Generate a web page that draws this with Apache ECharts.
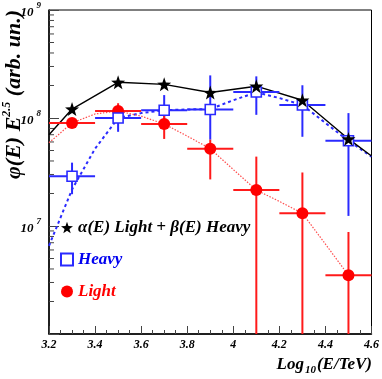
<!DOCTYPE html>
<html>
<head>
<meta charset="utf-8">
<script src="https://cdn.jsdelivr.net/npm/echarts@6/dist/echarts.min.js"></script>
<style>
  html, body { margin: 0; padding: 0; background: #fff; }
  #chart { width: 382px; height: 379px; }
</style>
</head>
<body>
<div id="chart"></div>
<script>
// measured points (bin centres in log10(E/TeV))
var energyBins = [3.3, 3.5, 3.7, 3.9, 4.1, 4.3, 4.5];
var binHalfWidth = 0.1;

var totalFlux = [1.21e8, 2.14e8, 2.05e8, 1.72e8, 1.97e8, 1.46e8, 6.4e7];

var heavyFlux = [2.89e7, 1.0e8, 1.18e8, 1.2e8, 1.74e8, 1.32e8, 6.15e7];
var heavyLow = [1.97e7, 7.45e7, 9.0e7, 6.3e7, 1.07e8, 6.7e7, 1.24e7];
var heavyHigh = [3.86e7, 1.32e8, 1.63e8, 2.48e8, 2.43e8, 2.01e8, 1.11e8];

var lightFlux = [9.0e7, 1.16e8, 8.8e7, 5.2e7, 2.15e7, 1.31e7, 3.5e6];
var lightLow = [8.1e7, 9.6e7, 6.4e7, 2.7e7, 1e6, 1e6, 1e6];
var lightHigh = [1.0e8, 1.37e8, 1.07e8, 6.3e7, 4.39e7, 3.13e7, 8.8e6];

// fitted curves
var curveX = [3.2, 3.3, 3.4, 3.5, 3.6, 3.7, 3.8, 3.9, 4.0, 4.1, 4.2, 4.3, 4.4, 4.5, 4.6];
var heavyCurve = [6.56e6, 2.18e7, 5.2e7, 1.0e8, 1.11e8, 1.18e8, 1.2e8, 1.21e8, 1.46e8, 1.73e8, 1.53e8, 1.32e8, 9.0e7, 6.15e7, 4.39e7];
var lightCurve = [5.9e7, 9.0e7, 1.09e8, 1.16e8, 1.04e8, 8.8e7, 6.8e7, 5.2e7, 3.33e7, 2.15e7, 1.69e7, 1.31e7, 6.8e6, 3.5e6, null];
var totalCurveX = [3.2, 3.3, 3.5, 3.7, 3.9, 4.1, 4.3, 4.5, 4.6];
var totalCurve = [7.0e7, 1.21e8, 2.14e8, 2.05e8, 1.72e8, 1.97e8, 1.46e8, 6.4e7, 4.45e7];

// axis
var xTicks = [3.2, 3.4, 3.6, 3.8, 4.0, 4.2, 4.4, 4.6];
var yMinorTicks = [2e6, 3e6, 4e6, 5e6, 6e6, 7e6, 8e6, 9e6,
  2e7, 3e7, 4e7, 5e7, 6e7, 7e7, 8e7, 9e7,
  2e8, 3e8, 4e8, 5e8, 6e8, 7e8, 8e8, 9e8];

var LEG_TOTAL = "\u03b1(E) Light + \u03b2(E) Heavy";
var LEG_HEAVY = "Heavy";
var LEG_LIGHT = "Light";

var RED = "#ff1a1a";
var BLUE = "#2a2aff";
var FONT = "'Liberation Serif', 'DejaVu Serif', serif";
var STAR = "path://M0,-10L2.35,-3.24L9.51,-3.09L3.8,1.24L5.88,8.09L0,4L-5.88,8.09L-3.8,1.24L-9.51,-3.09L-2.35,-3.24Z";

function pairs(xs, ys) {
  return xs.map(function (x, i) {
    return [x, ys[i]];
  });
}

function errData(vals, lo, hi) {
  return energyBins.map(function (x, i) {
    return [x, vals[i], lo[i], hi[i], binHalfWidth];
  });
}

function errRender(color) {
  return function (params, api) {
    var x = api.value(0), y = api.value(1);
    var dx = api.value(4);
    var c = api.coord([x, y]);
    var l = api.coord([x - dx, y]);
    var r = api.coord([x + dx, y]);
    var top = api.coord([x, api.value(3)]);
    var bot = api.coord([x, api.value(2)]);
    var st = { stroke: color, lineWidth: 2 };
    return {
      type: "group",
      children: [
        { type: "line", shape: { x1: l[0], y1: c[1], x2: r[0], y2: c[1] }, style: st },
        { type: "line", shape: { x1: c[0], y1: top[1], x2: c[0], y2: bot[1] }, style: st },
      ],
    };
  };
}

var chart = echarts.init(document.getElementById("chart"), null, { renderer: "canvas" });

var option = {
  backgroundColor: "#fff",
  animation: false,
  grid: {
    left: 49, right: 9, top: 10, bottom: 45,
    show: true, borderColor: "#000", borderWidth: 1, backgroundColor: "transparent",
  },
  legend: {
    orient: "vertical",
    left: 55,
    top: 214,
    itemWidth: 12,
    itemHeight: 12,
    itemGap: 15,
    selectedMode: false,
    textStyle: { fontFamily: FONT, fontSize: 17, fontWeight: "bold", fontStyle: "italic" },
    data: [
      { name: LEG_TOTAL, textStyle: { color: "#000" } },
      { name: LEG_HEAVY, textStyle: { color: "#0000f0" } },
      { name: LEG_LIGHT, textStyle: { color: "#ff0000" } },
    ],
  },
  xAxis: {
    type: "value",
    min: 3.2,
    max: 4.6,
    interval: 0.2,
    axisLine: { lineStyle: { color: "#000", width: 1.5 } },
    axisTick: { inside: true, length: 8, lineStyle: { color: "#444" } },
    minorTick: { show: true, splitNumber: 4, length: 4, lineStyle: { color: "#444" } },
    splitLine: { show: false },
    axisLabel: {
      margin: 5,
      color: "#000",
      fontFamily: FONT,
      fontSize: 12,
      fontWeight: "bold",
      fontStyle: "italic",
      formatter: function (v) {
        var t = xTicks.filter(function (k) { return Math.abs(k - v) < 1e-6; })[0];
        if (t === undefined) return "";
        return Math.abs(t - 4) < 1e-6 ? "4" : t.toFixed(1);
      },
    },
  },
  yAxis: {
    type: "log",
    logBase: 10,
    min: 1e6,
    max: 1e9,
    axisLine: { lineStyle: { color: "#000", width: 1.5 } },
    axisTick: { inside: true, length: 10, lineStyle: { color: "#444" } },
    splitLine: { show: false },
    axisLabel: {
      margin: 8,
      formatter: function (v) {
        var e = Math.round(Math.log(v) / Math.LN10);
        if (e === 6) return "";
        return "{b|10}{s|" + e + "}";
      },
      rich: {
        b: { fontFamily: FONT, fontSize: 13, fontWeight: "bold", fontStyle: "italic", color: "#000", lineHeight: 18, verticalAlign: "bottom" },
        s: { fontFamily: FONT, fontSize: 9, fontWeight: "bold", fontStyle: "italic", color: "#000", lineHeight: 9, verticalAlign: "top", padding: [0, 0, 0, 3] },
      },
    },
  },
  graphic: [
    {
      type: "text",
      x: 13,
      y: 10,
      rotation: Math.PI / 2,
      style: {
        text: "{m|\u03c6(E) E}{p|2.5}{m| (arb. un.)}",
        align: "right",
        verticalAlign: "middle",
        rich: {
          m: { fontFamily: FONT, fontSize: 22, fontWeight: "bold", fontStyle: "italic", fill: "#000", lineHeight: 24, verticalAlign: "bottom" },
          p: { fontFamily: FONT, fontSize: 12, fontWeight: "bold", fontStyle: "italic", fill: "#000", lineHeight: 12, verticalAlign: "top" },
        },
      },
    },
    {
      type: "text",
      x: 372,
      y: 366,
      style: {
        text: "{m|Log}{b|10}{m|(E/TeV)}",
        align: "right",
        verticalAlign: "middle",
        rich: {
          m: { fontFamily: FONT, fontSize: 17, fontWeight: "bold", fontStyle: "italic", fill: "#000", lineHeight: 20, verticalAlign: "top" },
          b: { fontFamily: FONT, fontSize: 11, fontWeight: "bold", fontStyle: "italic", fill: "#000", lineHeight: 11, verticalAlign: "bottom", padding: [0, 1, 0, 1] },
        },
      },
    },
  ],
  series: [
    {
      name: "yMinorTicks",
      type: "custom",
      silent: true,
      data: yMinorTicks.map(function (v) { return [3.2, v]; }),
      renderItem: function (params, api) {
        var p = api.coord([api.value(0), api.value(1)]);
        return {
          type: "line",
          shape: { x1: p[0], y1: p[1], x2: p[0] + 5, y2: p[1] },
          style: { stroke: "#444", lineWidth: 1 },
        };
      },
      z: 1,
    },
    {
      name: "heavyFit",
      type: "line",
      data: pairs(curveX, heavyCurve),
      showSymbol: false,
      silent: true,
      lineStyle: { color: BLUE, width: 2, type: [3, 3] },
      z: 2,
    },
    {
      name: "lightFit",
      type: "line",
      data: pairs(curveX, lightCurve),
      showSymbol: false,
      silent: true,
      lineStyle: { color: "#ff5050", width: 1.2, type: [1.5, 1.5] },
      z: 2,
    },
    {
      name: "totalFit",
      type: "line",
      data: pairs(totalCurveX, totalCurve),
      showSymbol: false,
      silent: true,
      lineStyle: { color: "#000", width: 1.4 },
      z: 2,
    },
    {
      name: "heavyErr",
      type: "custom",
      silent: true,
      data: errData(heavyFlux, heavyLow, heavyHigh),
      renderItem: errRender(BLUE),
      z: 3,
    },
    {
      name: "lightErr",
      type: "custom",
      silent: true,
      data: errData(lightFlux, lightLow, lightHigh),
      renderItem: errRender(RED),
      z: 3,
    },
    {
      name: LEG_LIGHT,
      type: "scatter",
      data: pairs(energyBins, lightFlux),
      symbol: "circle",
      symbolSize: 12,
      itemStyle: { color: "#ff0000", opacity: 1 },
      z: 4,
    },
    {
      name: LEG_HEAVY,
      type: "scatter",
      data: pairs(energyBins, heavyFlux),
      symbol: "rect",
      symbolSize: 10,
      itemStyle: { color: "#fff", borderColor: BLUE, borderWidth: 1.6, opacity: 1 },
      z: 5,
    },
    {
      name: LEG_TOTAL,
      type: "scatter",
      data: pairs(energyBins, totalFlux),
      symbol: STAR,
      symbolSize: 14,
      itemStyle: { color: "#000", opacity: 1 },
      z: 6,
    },
  ],
};

chart.setOption(option);
</script>
</body>
</html>
